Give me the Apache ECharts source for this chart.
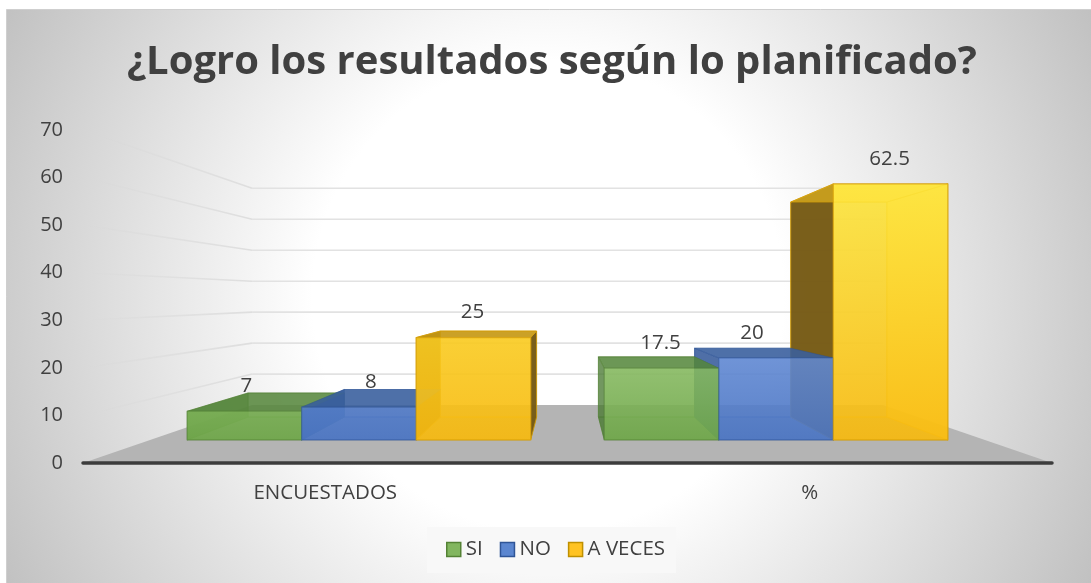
<!DOCTYPE html>
<html><head><meta charset="utf-8">
<style>html,body{margin:0;padding:0;background:#fff}#c{width:1091px;height:583px}</style>
<script src="https://cdn.jsdelivr.net/npm/echarts@6/dist/echarts.min.js"></script>
</head><body><div id="c"></div>
<script>
const categories = ['ENCUESTADOS', '%'];
const seriesNames = ['SI', 'NO', 'A VECES'];
const si = [7, 17.5];
const no = [8, 20];
const aVeces = [25, 62.5];
const yTicks = [10, 20, 30, 40, 50, 60, 70];

const FONT = '"Open Sans", sans-serif';
const INK = '#404040';
const VP = [567.5, 297];       // vanishing point of the perspective
const K_WALL = 0.651, K_FRONT = 0.861, K_BACK = 0.723;
const BAR_BAND = 0.2745;       // bar width as a share of a category band
const labelShift = {SI: [3, 0], NO: [13, -23]};

const skins = {
  SI: {g: ['rgba(140,190,102,.88)', 'rgba(112,168,74,.9)'], y: [356, 440], side: 'rgba(72,120,48,.72)', inner: 'rgba(72,120,48,.72)', top: 'rgba(88,136,62,.85)', edge: 'rgba(84,130,53,.5)', legend: '#82b65f', lb: '#548235'},
  NO: {g: ['rgba(100,140,214,.88)', 'rgba(76,118,196,.9)'], y: [347, 440], side: 'rgba(44,82,150,.8)', inner: 'rgba(44,82,150,.8)', top: 'rgba(58,96,158,.88)', edge: 'rgba(47,85,151,.5)', legend: '#5b86d0', lb: '#2f5597'},
  'A VECES': {g: ['rgba(255,232,60,.88)', 'rgba(250,188,16,.9)'], y: [183, 440], side: 'rgba(118,90,20,.96)', inner: 'rgba(245,195,30,.6)', top: 'rgba(200,154,20,.9)', edge: 'rgba(214,160,10,.7)', legend: '#ffc322', lb: '#bf9000'}
};

function proj(p, k) { return [VP[0] + (p[0] - VP[0]) * k, VP[1] + (p[1] - VP[1]) * k]; }
function poly(points, fill, stroke, z2, lw) {
  return {type: 'polygon', z2, shape: {points}, style: {fill, stroke: stroke || null, lineWidth: lw || 1}, silent: true};
}

function barRenderer(name, seriesIndex) {
  const s = skins[name];
  return function (params, api) {
    const idx = api.value(0), v = api.value(1);
    const band = api.size([1, 0])[0];
    const w = band * BAR_BAND;
    const c0 = api.coord([idx, 0]);
    const c1 = api.coord([idx, v]);
    const xl = c0[0] + (seriesIndex - 1.5) * w, xr = xl + w;
    const corner = (x, y, k) => proj([x, y], k);
    const fbl = corner(xl, c0[1], K_FRONT), fbr = corner(xr, c0[1], K_FRONT);
    const ftl = corner(xl, c1[1], K_FRONT), ftr = corner(xr, c1[1], K_FRONT);
    const bbl = corner(xl, c0[1], K_BACK), bbr = corner(xr, c0[1], K_BACK);
    const btl = corner(xl, c1[1], K_BACK), btr = corner(xr, c1[1], K_BACK);
    const grad = {type: 'linear', x: 0, y: s.y[0], x2: 0, y2: s.y[1], global: true,
      colorStops: [{offset: 0, color: s.g[0]}, {offset: 1, color: s.g[1]}]};
    const shift = (labelShift[name] || [0, 0])[idx];
    // faces that sit behind the front pane show through it only faintly
    const rightHidden = btr[0] < ftr[0];
    const topHidden = btl[1] > ftl[1];
    return {type: 'group', children: [
      poly([btl, btr, bbr, bbl], s.side.replace(/,[.\d]+\)/, ',.18)'), s.edge, 1),
      poly([bbl, bbr, fbr, fbl], s.side.replace(/,[.\d]+\)/, ',.3)'), s.edge, 2),
      poly([btl, ftl, fbl, bbl], s.side, s.edge, 3),
      poly([btr, ftr, fbr, bbr], rightHidden ? s.inner : s.side, s.edge, 3),
      poly([btl, btr, ftr, ftl], topHidden ? s.inner : s.top, s.edge, 4),
      poly([ftl, ftr, fbr, fbl], grad, s.edge, 5, 1.2),
      {type: 'text', z2: 6, silent: true, style: {
        x: (ftl[0] + ftr[0]) / 2 + shift - 1, y: ftl[1] - 25, text: String(v),
        fill: INK, font: '20.5px ' + FONT, align: 'center', verticalAlign: 'middle'}}
    ]};
  };
}

function wallRenderer(params, api) {
  const v = api.value(0);
  const cs = params.coordSys;
  const front = api.coord([0, v]);
  const fl = [cs.x, front[1]];
  const bl = proj(fl, K_WALL);
  const br = proj([cs.x + cs.width, front[1]], K_WALL);
  const fade = {type: 'linear', x: fl[0], y: fl[1], x2: bl[0], y2: bl[1], global: true,
    colorStops: [{offset: 0, color: 'rgba(215,215,215,0)'}, {offset: .15, color: 'rgba(215,215,215,.25)'}, {offset: 1, color: '#dedede'}]};
  return {type: 'group', children: [
    {type: 'line', silent: true, shape: {x1: fl[0], y1: fl[1], x2: bl[0], y2: bl[1]}, style: {stroke: fade, lineWidth: 1.6}},
    {type: 'line', silent: true, shape: {x1: bl[0], y1: bl[1], x2: br[0], y2: br[1]}, style: {stroke: '#e2e2e2', lineWidth: 1.6}}
  ]};
}

function floorRenderer(params, api) {
  const cs = params.coordSys;
  const y0 = api.coord([0, 0])[1];
  const a = [cs.x, y0], b = [cs.x + cs.width, y0];
  return poly([a, b, proj(b, K_WALL), proj(a, K_WALL)], '#b4b4b4');
}

const barSeries = [si, no, aVeces].map((vals, i) => ({
  type: 'custom', name: seriesNames[i], coordinateSystem: 'cartesian2d', z: 5, clip: false,
  renderItem: barRenderer(seriesNames[i], i),
  encode: {x: 0, y: 1},
  data: vals.map((v, j) => [j, v])
}));

const chart = echarts.init(document.getElementById('c'), null, {renderer: 'canvas'});
chart.setOption({
  animation: false,
  backgroundColor: '#ffffff',
  graphic: [{
    type: 'rect', z: -10, silent: true,
    shape: {x: 6.5, y: 9.5, width: 1095, height: 585},
    style: {stroke: '#cfcfcf', lineWidth: 1,
      fill: {type: 'radial', x: 548, y: 296, r: 620, global: true, colorStops: [
        {offset: 0, color: '#ffffff'}, {offset: .38, color: '#ffffff'}, {offset: 1, color: '#c0c0c0'}]}}
  }],
  title: {text: '¿Logro los resultados según lo planificado?', left: 122, top: 38,
    textStyle: {fontFamily: FONT, fontSize: 40, fontWeight: 'bold', color: INK}},
  legend: {
    left: 427, top: 527, padding: [12, 11, 13, 19], backgroundColor: '#f8f8f8',
    itemWidth: 14, itemHeight: 14, itemGap: 17,
    textStyle: {fontFamily: FONT, fontSize: 20.5, color: INK},
    data: seriesNames.map(n => ({name: n, icon: 'rect',
      itemStyle: {color: skins[n].legend, borderColor: skins[n].lb, borderWidth: 1.5}}))
  },
  grid: {left: 83, right: 39, top: 130, bottom: 120},
  xAxis: {type: 'category', data: categories, z: 3,
    axisLine: {lineStyle: {color: '#3c3c3c', width: 3.5, cap: 'round'}}, axisTick: {show: false},
    axisLabel: {margin: 20, fontFamily: FONT, fontSize: 20.5, color: INK}, splitLine: {show: false}},
  yAxis: {type: 'value', min: 0, max: 70, interval: 10,
    axisLine: {show: false}, axisTick: {show: false}, splitLine: {show: false},
    axisLabel: {margin: 20, fontFamily: FONT, fontSize: 20, color: INK, padding: [3, 0, 0, 0]}},
  series: [
    {type: 'custom', z: 1, silent: true, renderItem: floorRenderer, data: [0], encode: {y: 0}, clip: false},
    {type: 'custom', z: 2, silent: true, renderItem: wallRenderer, data: yTicks, encode: {y: 0}, clip: false}
  ].concat(barSeries)
});
</script></body></html>
